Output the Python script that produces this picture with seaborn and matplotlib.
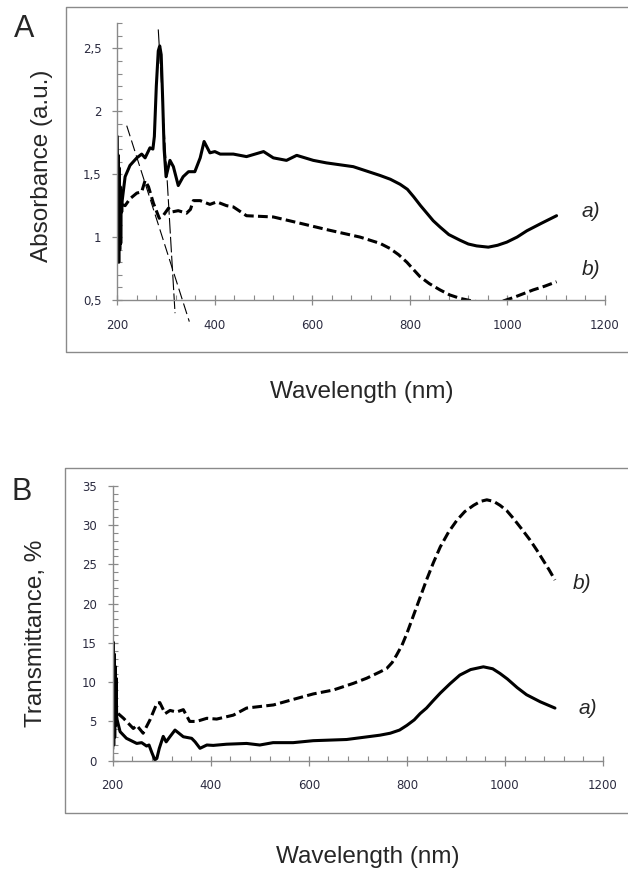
import numpy as np
import pandas as pd
import seaborn as sns
import matplotlib.pyplot as plt
from matplotlib.lines import Line2D
from matplotlib.ticker import MultipleLocator, FuncFormatter

# --- panel A: absorbance ---
abs_wl_a = [200, 201, 202, 203, 204, 205, 206, 207, 208, 209, 210, 216, 226, 240, 250, 257,
            267, 273, 276, 280, 284, 287, 290, 293, 296, 300, 308, 315, 325, 335, 346, 359,
            370, 378, 390, 400, 411, 438, 465, 500, 520, 547, 568, 602, 629, 684, 739, 760,
            780, 795, 808, 822, 835, 848, 862, 880, 903, 920, 937, 961, 980, 999, 1020, 1040,
            1070, 1101]
abs_a = [1.80, 0.85, 1.65, 0.80, 1.55, 0.90, 1.40, 0.95, 1.30, 1.20, 1.29, 1.48, 1.57, 1.63, 1.66, 1.63,
         1.71, 1.70, 1.80, 2.20, 2.48, 2.52, 2.45, 2.10, 1.70, 1.48, 1.61, 1.56, 1.41, 1.48, 1.52, 1.52,
         1.63, 1.76, 1.67, 1.68, 1.66, 1.66, 1.64, 1.68, 1.63, 1.61, 1.65, 1.61, 1.59, 1.56, 1.49, 1.46,
         1.42, 1.38, 1.32, 1.25, 1.19, 1.13, 1.08, 1.02, 0.975, 0.945, 0.93, 0.92, 0.935, 0.96, 1.00, 1.05,
         1.11, 1.17]

abs_wl_b = [208, 216, 226, 240, 250, 257, 264, 274, 286, 294, 305, 312, 325, 342, 350, 356,
            370, 390, 404, 424, 438, 465, 520, 575, 629, 698, 739, 759, 777, 794, 808, 821,
            840, 862, 882, 903, 930, 960, 990, 1013, 1033, 1053, 1077, 1101]
abs_b = [1.26, 1.25, 1.305, 1.35, 1.36, 1.45, 1.40, 1.27, 1.15, 1.17, 1.23, 1.20, 1.21, 1.19, 1.22, 1.29,
         1.29, 1.26, 1.28, 1.25, 1.24, 1.17, 1.16, 1.11, 1.06, 1.00, 0.95, 0.91, 0.86, 0.80, 0.74, 0.685,
         0.63, 0.58, 0.54, 0.513, 0.49, 0.48, 0.49, 0.52, 0.55, 0.58, 0.61, 0.645]

# tangent lines drawn on panel A
tan1_wl = [284, 318.4]
tan1_y = [2.651, 0.395]
tan2_wl = [219.3, 347.7]
tan2_y = [1.886, 0.328]

# --- panel B: transmittance ---
tr_wl_a = [200, 201, 202, 203, 204, 205, 206, 207, 208, 209, 215, 228, 249, 259, 269, 274,
           280, 286, 290, 295, 303, 309, 316, 327, 344, 361, 368, 378, 392, 405, 432, 473,
           500, 527, 568, 609, 677, 745, 766, 785, 800, 815, 827, 840, 853, 868, 888, 908,
           930, 956, 975, 990, 1005, 1025, 1044, 1072, 1102]
tr_a = [1.5, 15.1, 2.0, 13.6, 3.0, 12.0, 4.5, 10.5, 5.6, 5.2, 3.7, 2.85, 2.2, 2.3, 1.87, 2.0,
        1.0, 0.1, 0.3, 1.58, 3.1, 2.4, 3.0, 3.9, 3.05, 2.85, 2.4, 1.58, 2.0, 1.95, 2.1, 2.2,
        2.0, 2.3, 2.3, 2.55, 2.7, 3.25, 3.5, 3.9, 4.5, 5.2, 6.0, 6.7, 7.6, 8.6, 9.8, 10.9,
        11.6, 11.95, 11.7, 11.1, 10.4, 9.3, 8.4, 7.5, 6.7]

tr_wl_b = [211, 222, 242, 249, 262, 276, 290, 296, 307, 317, 330, 344, 357, 371, 392, 412,
           446, 473, 528, 568, 609, 650, 691, 718, 745, 759, 770, 779, 790, 800, 810, 820,
           830, 840, 854, 868, 885, 902, 918, 936, 950, 963, 977, 990, 1004, 1017, 1034, 1051,
           1065, 1078, 1090, 1102]
tr_b = [6.0, 5.4, 4.1, 4.5, 3.5, 5.2, 7.3, 7.4, 6.0, 6.4, 6.2, 6.5, 5.0, 5.0, 5.4, 5.3,
        5.8, 6.7, 7.1, 7.8, 8.5, 9.0, 9.85, 10.5, 11.3, 11.75, 12.5, 13.45, 14.7, 16.2, 17.9, 19.6,
        21.3, 23.0, 25.2, 27.2, 29.1, 30.6, 31.7, 32.5, 33.0, 33.2, 33.0, 32.5, 31.8, 30.85, 29.5, 28.1,
        26.8, 25.5, 24.3, 23.0]

sns.set_style("white")
plt.rcParams['font.family'] = ['Liberation Sans', 'DejaVu Sans']

GRAY = '#8a8a8a'
DASH = (3.2, 1.4)

fig = plt.figure(figsize=(6.28, 8.69), dpi=100)
ax1 = fig.add_axes([0.1868, 0.6548, 0.7763, 0.3184])
ax2 = fig.add_axes([0.1795, 0.1246, 0.7807, 0.3165])


def draw_series(ax, wl, vals, dashed=False):
    df = pd.DataFrame({'wl': wl, 'val': vals})
    sns.lineplot(data=df, x='wl', y='val', ax=ax, color='black', lw=2.2,
                 sort=False, estimator=None)
    line = ax.lines[-1]
    line.set_solid_joinstyle('round')
    line.set_dash_joinstyle('round')
    if dashed:
        line.set_dashes(DASH)


def style_axis(ax, ymin, ymax, ymaj, ymin_step, fmt):
    ax.set_xlim(200, 1200)
    ax.set_ylim(ymin, ymax)
    ax.xaxis.set_major_locator(MultipleLocator(200))
    ax.xaxis.set_minor_locator(MultipleLocator(40))
    ax.yaxis.set_major_locator(MultipleLocator(ymaj))
    ax.yaxis.set_minor_locator(MultipleLocator(ymin_step))
    ax.yaxis.set_major_formatter(FuncFormatter(fmt))
    for s in ['top', 'right']:
        ax.spines[s].set_visible(False)
    for s in ['left', 'bottom']:
        ax.spines[s].set_color(GRAY)
        ax.spines[s].set_linewidth(1.0)
    ax.tick_params(which='major', direction='inout', length=7, width=0.9, color=GRAY,
                   labelsize=8.5, labelcolor='#2b2b40', left=True, bottom=True)
    ax.tick_params(which='minor', direction='in', length=3.5, width=0.8, color=GRAY,
                   left=True, bottom=True)
    ax.tick_params(axis='x', which='major', pad=10)
    ax.tick_params(axis='y', which='major', pad=8)
    ax.set_xlabel('')
    ax.set_ylabel('')
    ax.patch.set_alpha(0)
    for lab in ax.get_xticklabels() + ax.get_yticklabels():
        lab.set_family(['DejaVu Sans'])


def comma_fmt(v, pos):
    s = f'{v:g}'
    return s.replace('.', ',')


# panel A
draw_series(ax1, abs_wl_a, abs_a)
draw_series(ax1, abs_wl_b, abs_b, dashed=True)
for twl, ty, dsh in [(tan1_wl, tan1_y, (14, 3)), (tan2_wl, tan2_y, (10, 4))]:
    ln = Line2D(twl, ty, color='black', lw=0.8, clip_on=False)
    ln.set_dashes(dsh)
    ax1.add_line(ln)
style_axis(ax1, 0.5, 2.7, 0.5, 0.1, comma_fmt)
ax1.text(1172, 1.205, 'a)', style='italic', fontsize=15, ha='center', va='center')
ax1.text(1172, 0.745, 'b)', style='italic', fontsize=15, ha='center', va='center')

# panel B
draw_series(ax2, tr_wl_a, tr_a)
draw_series(ax2, tr_wl_b, tr_b, dashed=True)
style_axis(ax2, 0, 35, 5, 1, comma_fmt)
ax2.text(1157, 22.5, 'b)', style='italic', fontsize=15, ha='center', va='center')
ax2.text(1169, 6.7, 'a)', style='italic', fontsize=15, ha='center', va='center')

# outer frames (top, left, bottom edges only)
for x0, y0, y1 in [(66 / 628, 1 - 351.5 / 869, 1 - 6.5 / 869),
                   (65 / 628, 1 - 812.5 / 869, 1 - 468 / 869)]:
    fig.add_artist(Line2D([1.0, x0, x0, 1.0], [y1, y1, y0, y0], color=GRAY, lw=1.0,
                          transform=fig.transFigure))

# titles and panel letters
fig.text(0.5764, 1 - 392 / 869, 'Wavelength (nm)', fontsize=17.5, ha='center', va='center')
fig.text(0.586, 1 - 857 / 869, 'Wavelength (nm)', fontsize=17.5, ha='center', va='center')
fig.text(42 / 628, 1 - 166 / 869, 'Absorbance (a.u.)', fontsize=17.5, rotation=90,
         ha='center', va='center')
fig.text(36 / 628, 1 - 633 / 869, 'Transmittance, %', fontsize=17.5, rotation=90,
         ha='center', va='center')
fig.text(24 / 628, 1 - 29 / 869, 'A', fontsize=22, ha='center', va='center')
fig.text(22 / 628, 1 - 492 / 869, 'B', fontsize=22, ha='center', va='center')

fig.savefig('out.png', dpi=100)
